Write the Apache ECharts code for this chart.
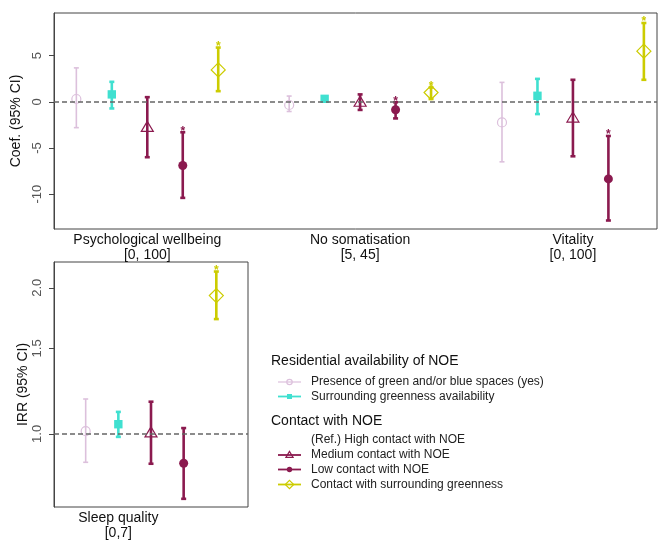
<!DOCTYPE html>
<html>
<head>
<meta charset="utf-8">
<script src="https://cdn.jsdelivr.net/npm/echarts@6/dist/echarts.min.js"></script>
<style>html,body{margin:0;padding:0;background:#fff}#c{width:658px;height:541px}</style>
</head>
<body>
<div id="c"></div>
<script>
// ---------- DATA ----------
const outcomeLabels = ['Psychological wellbeing\n[0, 100]', 'No somatisation\n[5, 45]', 'Vitality\n[0, 100]'];
const outcomePositions = [3, 9, 15];
const sleepLabel = 'Sleep quality\n[0,7]';
const sleepLabelPosition = 2;
const seriesNames = ['Presence of green and/or blue spaces (yes)', 'Surrounding greenness availability',
  'Medium contact with NOE', 'Low contact with NOE', 'Contact with surrounding greenness'];
const refLabel = '(Ref.) High contact with NOE';
const legendTitle1 = 'Residential availability of NOE';
const legendTitle2 = 'Contact with NOE';

// Coefficients (top panel): per outcome [Psych, NoSomat, Vitality]
const presenceEst = [0.3, -0.35, -2.23];
const presenceLo  = [-2.8, -1.05, -6.5];
const presenceHi  = [3.67, 0.62, 2.1];
const presenceSig = [0, 0, 0];

const surroundEst = [0.8, 0.32, 0.65];
const surroundLo  = [-0.72, 0.15, -1.33];
const surroundHi  = [2.16, 0.5, 2.48];
const surroundSig = [0, 0, 0];

const mediumEst = [-2.77, -0.05, -1.76];
const mediumLo  = [-6.0, -0.88, -5.9];
const mediumHi  = [0.5, 0.8, 2.38];
const mediumSig = [0, 0, 0];

const lowEst = [-6.9, -0.86, -8.35];
const lowLo  = [-10.4, -1.8, -12.85];
const lowHi  = [-3.3, -0.05, -3.7];
const lowSig = [1, 1, 1];

const contactEst = [3.45, 1.0, 5.48];
const contactLo  = [1.15, 0.3, 2.38];
const contactHi  = [5.87, 1.55, 8.53];
const contactSig = [1, 1, 1];

// IRR (bottom panel: Sleep quality), order = series order
const sleepEst = [1.013, 1.047, 1.005, 0.87, 1.927];
const sleepLo  = [0.874, 0.986, 0.868, 0.735, 1.724];
const sleepHi  = [1.18, 1.11, 1.165, 1.028, 2.16];
const sleepSig = [0, 0, 0, 0, 1];

const coefTicks = [-10, -5, 0, 5];
const irrTicks = [1.0, 1.5, 2.0];

// ---------- STYLE ----------
const colors = ['#dcc0dc', '#40e0d0', '#8b1a4f', '#8b1a4f', '#cccc00'];
const markers = ['ocircle', 'square', 'otriangle', 'circle', 'odiamond'];
const widths = [1.6, 2.6, 2.6, 2.6, 2.6];
const FONT = 'Liberation Sans, Arial, sans-serif';

function markerShape(type, x, y, color, scale) {
  const s = scale || 1;
  switch (type) {
    case 'ocircle': return {type:'circle', shape:{cx:x, cy:y, r:4.5*s}, style:{fill:'none', stroke:color, lineWidth:1.2}};
    case 'square': return {type:'rect', shape:{x:x-4.2*s, y:y-4.2*s, width:8.4*s, height:8.4*s}, style:{fill:color}};
    case 'otriangle': return {type:'polygon', shape:{points:[[x, y-6*s],[x-6*s, y+4*s],[x+6*s, y+4*s]]}, style:{fill:'none', stroke:color, lineWidth:1.2}};
    case 'circle': return {type:'circle', shape:{cx:x, cy:y, r:4.5*s}, style:{fill:color}};
    case 'odiamond': return {type:'polygon', shape:{points:[[x, y-7*s],[x+7*s, y],[x, y+7*s],[x-7*s, y]]}, style:{fill:'none', stroke:color, lineWidth:1.2}};
  }
}

function makeRender(k) {
  const color = colors[k], lw = widths[k];
  return function (params, api) {
    const x = api.value(0), est = api.value(1), lo = api.value(2), hi = api.value(3), sig = api.value(4);
    const pE = api.coord([x, est]), pL = api.coord([x, lo]), pH = api.coord([x, hi]);
    const cap = 2.5;
    const ls = {stroke: color, lineWidth: lw};
    const children = [
      {type:'line', shape:{x1:pL[0], y1:pL[1], x2:pH[0], y2:pH[1]}, style:ls},
      {type:'line', shape:{x1:pL[0]-cap, y1:pL[1], x2:pL[0]+cap, y2:pL[1]}, style:ls},
      {type:'line', shape:{x1:pH[0]-cap, y1:pH[1], x2:pH[0]+cap, y2:pH[1]}, style:ls},
      markerShape(markers[k], pE[0], pE[1], color)
    ];
    if (sig) {
      children.push({type:'text', style:{text:'*', x:pH[0], y:pH[1]-1, fill:color, font:'bold 12px ' + FONT, align:'center', verticalAlign:'middle'}});
    }
    return {type:'group', children};
  };
}

const topEst = [presenceEst, surroundEst, mediumEst, lowEst, contactEst];
const topLo = [presenceLo, surroundLo, mediumLo, lowLo, contactLo];
const topHi = [presenceHi, surroundHi, mediumHi, lowHi, contactHi];
const topSig = [presenceSig, surroundSig, mediumSig, lowSig, contactSig];

const series = [];
for (let k = 0; k < 5; k++) {
  series.push({
    type:'custom', name: seriesNames[k], xAxisIndex:0, yAxisIndex:0,
    renderItem: makeRender(k), clip:false,
    encode:{x:0, y:[1,2,3]},
    data: outcomeLabels.map((_, g) => [g*6 + k + 1, topEst[k][g], topLo[k][g], topHi[k][g], topSig[k][g]])
  });
  series.push({
    type:'custom', name: seriesNames[k], xAxisIndex:1, yAxisIndex:1,
    renderItem: makeRender(k), clip:false,
    encode:{x:0, y:[1,2,3]},
    data: [[k + 1, sleepEst[k], sleepLo[k], sleepHi[k], sleepSig[k]]]
  });
}
const refLine = (axis, val) => ({
  type:'line', xAxisIndex:axis, yAxisIndex:axis, data:[], z:1,
  markLine:{silent:true, symbol:'none', label:{show:false},
    lineStyle:{color:'#666', type:[5,3], width:1.5}, data:[{yAxis: val}]}
});
series.unshift(refLine(0, 0), refLine(1, 1));

const tickLabelStyle = {color:'#555', fontSize:13, fontFamily:FONT, rotate:90, margin:10};
const catLabelStyle = {color:'#111', fontSize:14, fontFamily:FONT, lineHeight:15, margin:4};

// ---------- LEGEND (graphic) ----------
const gfx = [];
const lx = 271, glyphX1 = 278, glyphX2 = 301, textX = 311;
function legendTitle(text, y) {
  gfx.push({type:'text', left:lx, top:y-8, style:{text, font:'14px ' + FONT, fill:'#111'}});
}
function legendItem(k, text, y) {
  if (k !== null) {
    gfx.push({type:'line', shape:{x1:glyphX1, y1:y, x2:glyphX2, y2:y}, style:{stroke:colors[k], lineWidth: k === 0 ? 1.2 : 1.8}});
    const m = markerShape(markers[k], (glyphX1+glyphX2)/2, y, colors[k], 0.6);
    gfx.push(m);
  }
  gfx.push({type:'text', x:textX, y:y, style:{text, font:'12px ' + FONT, fill:'#222', verticalAlign:'middle'}});
}
legendTitle(legendTitle1, 362);
legendItem(0, seriesNames[0], 382);
legendItem(1, seriesNames[1], 396.5);
legendTitle(legendTitle2, 422);
legendItem(null, refLabel, 439.5);
legendItem(2, seriesNames[2], 455);
legendItem(3, seriesNames[3], 469.5);
legendItem(4, seriesNames[4], 484.5);

const option = {
  animation:false,
  backgroundColor:'#fff',
  grid:[
    {left:54, top:13, width:603, height:216, show:true, borderColor:'#444', borderWidth:1},
    {left:54, top:262, width:194, height:250, show:true, borderColor:'#444', borderWidth:1}
  ],
  xAxis:[
    {type:'value', gridIndex:0, min:0.37, max:17.37, splitLine:{show:false}, axisLine:{show:false}, axisTick:{show:false},
     axisLabel:Object.assign({customValues: outcomePositions, formatter: v => outcomeLabels[outcomePositions.indexOf(v)]}, catLabelStyle)},
    {type:'value', gridIndex:1, min:0.03, max:5.97, splitLine:{show:false}, axisLine:{show:false}, axisTick:{show:false},
     axisLabel:Object.assign({customValues: [sleepLabelPosition], formatter: () => sleepLabel}, catLabelStyle)}
  ],
  yAxis:[
    {type:'value', gridIndex:0, min:-13.77, max:9.61, splitLine:{show:false},
     name:'Coef. (95% CI)', nameLocation:'middle', nameGap:21, nameTextStyle:{fontSize:14, fontFamily:FONT, color:'#111'},
     axisLine:{show:true, lineStyle:{color:'#444'}},
     axisTick:{show:true, length:5, customValues: coefTicks, lineStyle:{color:'#444'}},
     axisLabel:Object.assign({customValues: coefTicks, formatter: v => String(v)}, tickLabelStyle)},
    {type:'log', logBase:2, gridIndex:1, min:0.707, max:2.26, splitLine:{show:false},
     name:'IRR (95% CI)', nameLocation:'middle', nameGap:21, nameTextStyle:{fontSize:14, fontFamily:FONT, color:'#111'},
     axisLine:{show:true, lineStyle:{color:'#444'}},
     axisTick:{show:true, length:5, customValues: irrTicks, lineStyle:{color:'#444'}},
     axisLabel:Object.assign({customValues: irrTicks, formatter: v => Number(v).toFixed(1)}, tickLabelStyle)}
  ],
  graphic: gfx,
  series
};
const chart = echarts.init(document.getElementById('c'), null, {renderer:'canvas'});
chart.setOption(option);
</script>
</body>
</html>
